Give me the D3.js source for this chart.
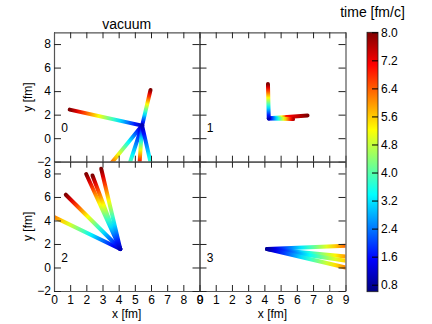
<!DOCTYPE html>
<html><head><meta charset="utf-8">
<script src="https://cdn.jsdelivr.net/npm/d3@7"></script>
<style>
body{margin:0;background:#fff}
text{font-family:"Liberation Sans",Arial,Helvetica,sans-serif;fill:#000}
</style>
</head><body><svg id="c" width="432" height="324"></svg>
<script>
// ---- data ----
const chartTitle = "vacuum";
const colorbarTitle = "time [fm/c]";
const xLabel = "x [fm]";
const yLabel = "y [fm]";
const panelNames = ["0", "1", "2", "3"];
const xTicks = [0, 1, 2, 3, 4, 5, 6, 7, 8, 9];
const yTicks = [-2, 0, 2, 4, 6, 8];
const cbTicks = [0.8, 1.6, 2.4, 3.2, 4.0, 4.8, 5.6, 6.4, 7.2, 8.0];
const xDomain = [0, 9];
const yDomain = [-2, 9];
const timeDomain = [0.6, 8.0];
const jetColors = ["#00007f", "#0000ff", "#007fff", "#00ffff", "#7fff7f", "#ffff00", "#ff7f00", "#ff0000", "#7f0000"];

// tracks: lists of [x, y, time]
const tracks0 = [
  [[5.45, 1.07, 1.0], [0.97, 2.43, 8.0]],
  [[5.45, 1.07, 1.0], [5.97, 4.10, 8.0]],
  [[5.45, 1.07, 1.0], [3.38, -2.4, 6.9]],
  [[5.45, 1.07, 1.0], [4.62, -2.4, 4.3]],
  [[5.45, 1.07, 1.0], [5.28, -2.4, 7.8]],
  [[5.45, 1.07, 1.0], [6.03, -2.4, 4.1]]
];
const tracks1 = [
  [[4.27, 1.70, 1.0], [5.40, 1.80, 7.0], [6.66, 1.93, 8.0]],
  [[4.27, 1.67, 1.0], [5.77, 1.62, 7.6]],
  [[4.27, 1.67, 1.0], [4.22, 4.60, 8.0]]
];
const tracks2 = [
  [[4.10, 1.57, 1.0], [-0.4, 4.56, 6.7]],
  [[4.10, 1.57, 1.0], [0.73, 6.19, 8.0]],
  [[4.10, 1.57, 1.0], [1.99, 7.95, 8.0]],
  [[4.10, 1.57, 1.0], [2.38, 7.83, 8.0]],
  [[4.10, 1.57, 1.0], [2.92, 8.40, 8.0]]
];
const tracks3 = [
  [[4.17, 1.57, 0.8], [9.4, 1.87, 6.8]],
  [[4.17, 1.57, 0.8], [9.4, 0.89, 6.4]],
  [[4.17, 1.57, 0.8], [9.4, 0.49, 6.0]],
  [[4.17, 1.57, 0.8], [9.4, -0.13, 6.6]]
];
const panelTracks = [tracks0, tracks1, tracks2, tracks3];

// ---- layout ----
const cols = [[54, 199.5], [199.5, 345.5]];
const rows = [[32.3, 161.7], [161.7, 291]];
const cb = {x: 367, w: 11, top: 32.3, bottom: 291.7};

const svg = d3.select("#c");
const defs = svg.append("defs");

const cStops = d3.range(jetColors.length).map(i => timeDomain[0] + i * (timeDomain[1] - timeDomain[0]) / (jetColors.length - 1));
const color = d3.scaleLinear().domain(cStops).range(jetColors).clamp(true);

let gid = 0;
panelTracks.forEach((tracks, p) => {
  const col = p % 2, row = Math.floor(p / 2);
  const x = d3.scaleLinear().domain(xDomain).range(cols[col]);
  const y = d3.scaleLinear().domain(yDomain).range([rows[row][1], rows[row][0]]);
  const clipId = "clip" + p;
  defs.append("clipPath").attr("id", clipId).append("rect")
    .attr("x", cols[col][0]).attr("y", rows[row][0])
    .attr("width", cols[col][1] - cols[col][0]).attr("height", rows[row][1] - rows[row][0]);
  const g = svg.append("g").attr("clip-path", `url(#${clipId})`);
  tracks.forEach(tr => {
    for (let k = 0; k < tr.length - 1; k++) {
      const a = tr[k], b = tr[k + 1];
      const id = "gr" + (gid++);
      const grad = defs.append("linearGradient").attr("id", id)
        .attr("gradientUnits", "userSpaceOnUse")
        .attr("x1", x(a[0])).attr("y1", y(a[1])).attr("x2", x(b[0])).attr("y2", y(b[1]));
      d3.range(11).forEach(i => {
        const f = i / 10;
        grad.append("stop").attr("offset", f).attr("stop-color", color(a[2] + (b[2] - a[2]) * f));
      });
      g.append("line")
        .attr("x1", x(a[0])).attr("y1", y(a[1])).attr("x2", x(b[0])).attr("y2", y(b[1]))
        .attr("stroke", `url(#${id})`).attr("stroke-width", 4).attr("stroke-linecap", "round");
    }
  });

  // axes / frame with inward ticks
  const axStyle = sel => {
    sel.selectAll("path.domain").attr("stroke", "#555").attr("stroke-width", 1.2);
    sel.selectAll(".tick line").attr("stroke", "#222").attr("stroke-width", 1);
    sel.selectAll("text").style("font-size", "12px").style("font-family", '"Liberation Sans",Arial,sans-serif').attr("fill", "#000");
  };
  const bottom = svg.append("g").attr("transform", `translate(0,${rows[row][1]})`)
    .call(d3.axisBottom(x).tickValues(xTicks).tickSizeInner(-6).tickSizeOuter(0).tickPadding(4)
      .tickFormat(row === 1 ? d3.format("d") : () => ""));
  axStyle(bottom);
  const top = svg.append("g").attr("transform", `translate(0,${rows[row][0]})`)
    .call(d3.axisTop(x).tickValues(xTicks).tickSizeInner(-6).tickSizeOuter(0).tickFormat(() => ""));
  axStyle(top);
  const left = svg.append("g").attr("transform", `translate(${cols[col][0]},0)`)
    .call(d3.axisLeft(y).tickValues(yTicks).tickSizeInner(-7).tickSizeOuter(0).tickPadding(3)
      .tickFormat(col === 0 ? (d => d < 0 ? "\u2212" + Math.abs(d) : String(d)) : () => ""));
  axStyle(left);
  const right = svg.append("g").attr("transform", `translate(${cols[col][1]},0)`)
    .call(d3.axisRight(y).tickValues(yTicks).tickSizeInner(-7).tickSizeOuter(0).tickFormat(() => ""));
  axStyle(right);

  svg.append("text").attr("x", x(0.45)).attr("y", y(0.5))
    .style("font-size", "12px").text(panelNames[p]);

  if (row === 1) {
    svg.append("text").attr("x", (cols[col][0] + cols[col][1]) / 2).attr("y", 317.5)
      .attr("text-anchor", "middle").style("font-size", "12px").text(xLabel);
  }
  if (col === 0) {
    svg.append("text").attr("transform", `translate(32,${(rows[row][0] + rows[row][1]) / 2}) rotate(-90)`)
      .attr("text-anchor", "middle").style("font-size", "12px").text(yLabel);
  }
});

// title
svg.append("text").attr("x", (cols[0][0] + cols[0][1]) / 2).attr("y", 29)
  .attr("text-anchor", "middle").style("font-size", "14px").text(chartTitle);

// colorbar
const cbY = d3.scaleLinear().domain(timeDomain).range([cb.bottom, cb.top]);
const cbGrad = defs.append("linearGradient").attr("id", "cbgrad")
  .attr("x1", 0).attr("y1", 1).attr("x2", 0).attr("y2", 0);
cStops.forEach((v, i) => {
  cbGrad.append("stop").attr("offset", (v - timeDomain[0]) / (timeDomain[1] - timeDomain[0])).attr("stop-color", jetColors[i]);
});
svg.append("rect").attr("x", cb.x).attr("y", cb.top).attr("width", cb.w).attr("height", cb.bottom - cb.top)
  .attr("fill", "url(#cbgrad)").attr("stroke", "#222").attr("stroke-width", 0.8);
const cbAxis = svg.append("g").attr("transform", `translate(${cb.x + cb.w},0)`)
  .call(d3.axisRight(cbY).tickValues(cbTicks).tickSizeInner(-6).tickSizeOuter(0).tickPadding(3).tickFormat(d3.format(".1f")));
cbAxis.select("path.domain").remove();
cbAxis.selectAll(".tick line").attr("stroke", "#000");
cbAxis.selectAll("text").style("font-size", "12px").style("font-family", '"Liberation Sans",Arial,sans-serif').attr("fill", "#000");
svg.append("text").attr("x", cb.x + cb.w / 2).attr("y", 17)
  .attr("text-anchor", "middle").style("font-size", "14px").text(colorbarTitle);
</script>
</body></html>
